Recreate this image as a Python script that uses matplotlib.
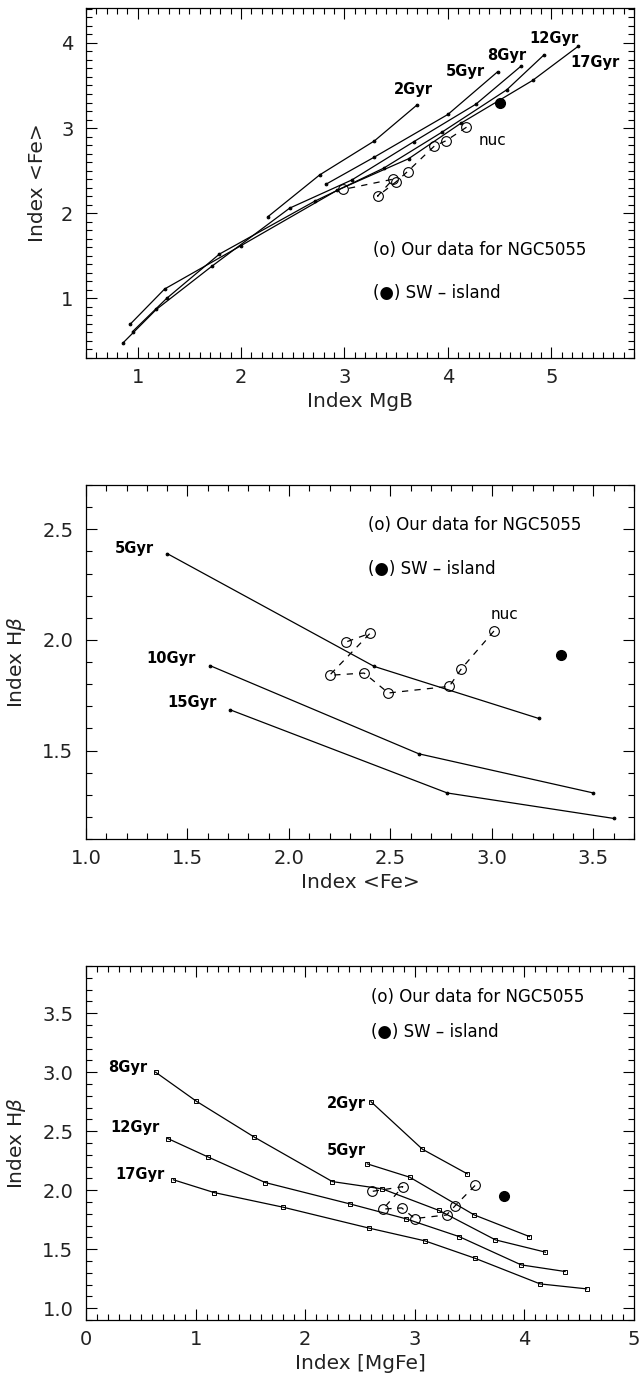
import matplotlib
matplotlib.use("Agg")
import matplotlib.pyplot as plt
from matplotlib.ticker import MultipleLocator, FormatStrFormatter

# ---- panel 1: MgB vs <Fe> (model grid, ages in Gyr) ----
mgb_2 = [2.26, 2.76, 3.29, 3.70]
fe_2 = [1.96, 2.45, 2.85, 3.27]
mgb_5 = [2.82, 3.29, 4.00, 4.48]
fe_5 = [2.34, 2.66, 3.16, 3.66]
mgb_8 = [0.86, 1.18, 1.72, 2.47, 3.07, 3.67, 4.27, 4.71]
fe_8 = [0.48, 0.87, 1.38, 2.06, 2.39, 2.84, 3.28, 3.73]
mgb_12 = [0.95, 1.28, 1.79, 2.71, 3.38, 3.94, 4.57, 4.93]
fe_12 = [0.61, 1.00, 1.52, 2.14, 2.53, 2.95, 3.45, 3.86]
mgb_17 = [0.93, 1.26, 2.00, 2.93, 3.62, 4.13, 4.82, 5.26]
fe_17 = [0.70, 1.11, 1.62, 2.27, 2.64, 3.06, 3.56, 3.96]

# ---- observed NGC5055 points (nucleus first, going outwards) ----
obs_mgb = [4.18, 3.98, 3.87, 3.61, 3.50, 3.32, 3.47, 2.99]
obs_fe = [3.01, 2.85, 2.79, 2.49, 2.37, 2.20, 2.40, 2.28]
obs_hb = [2.04, 1.87, 1.79, 1.76, 1.85, 1.84, 2.03, 1.99]
obs_mgfe = [3.55, 3.37, 3.29, 3.00, 2.88, 2.71, 2.89, 2.61]

# SW island
sw_mgb, sw_fe, sw_hb, sw_mgfe = 4.50, 3.30, 1.93, 3.81
sw_fe2 = 3.34
sw_hb3 = 1.95

# ---- panel 2: <Fe> vs Hbeta ----
p2_fe_5 = [1.40, 2.42, 3.23]
p2_hb_5 = [2.39, 1.88, 1.645]
p2_fe_10 = [1.61, 2.64, 3.50]
p2_hb_10 = [1.884, 1.485, 1.308]
p2_fe_15 = [1.71, 2.78, 3.60]
p2_hb_15 = [1.684, 1.308, 1.193]

# ---- panel 3: [MgFe] vs Hbeta ----
p3_x_2 = [2.60, 3.07, 3.48]
p3_y_2 = [2.75, 2.347, 2.138]
p3_x_5 = [2.567, 2.954, 3.541, 4.046]
p3_y_5 = [2.223, 2.110, 1.791, 1.607]
p3_x_8 = [0.635, 1.007, 1.537, 2.248, 2.704, 3.222, 3.736, 4.192]
p3_y_8 = [3.00, 2.754, 2.449, 2.073, 2.011, 1.828, 1.579, 1.475]
p3_x_12 = [0.746, 1.117, 1.635, 2.407, 2.922, 3.404, 3.971, 4.371]
p3_y_12 = [2.438, 2.280, 2.065, 1.884, 1.757, 1.607, 1.367, 1.311]
p3_x_17 = [0.798, 1.169, 1.798, 2.586, 3.091, 3.547, 4.143, 4.567]
p3_y_17 = [2.088, 1.980, 1.856, 1.678, 1.571, 1.424, 1.206, 1.164]

plt.rcParams['font.family'] = ['DejaVu Sans']
TICK_FS = 14
LAB_FS = 14.5
AGE_FS = 10.5
LEG_FS = 12
W, H = 639, 1387

fig = plt.figure(figsize=(W / 100, H / 100), dpi=100)


def make_axes(top, bottom):
    left, right = 86, 634
    return fig.add_axes([left / W, 1 - bottom / H, (right - left) / W, (bottom - top) / H])


def style(ax, xmaj, ymaj, xfmt, yfmt):
    ax.xaxis.set_major_locator(MultipleLocator(xmaj))
    ax.yaxis.set_major_locator(MultipleLocator(ymaj))
    ax.xaxis.set_minor_locator(MultipleLocator(0.1))
    ax.yaxis.set_minor_locator(MultipleLocator(0.1))
    ax.xaxis.set_major_formatter(FormatStrFormatter(xfmt))
    ax.yaxis.set_major_formatter(FormatStrFormatter(yfmt))
    ax.tick_params(which='both', direction='in', top=True, right=True, width=0.8,
                   labelsize=TICK_FS, labelcolor='#222')
    ax.tick_params(which='major', length=8)
    ax.tick_params(which='minor', length=4)
    ax.tick_params(axis='x', which='major', pad=7)
    ax.tick_params(axis='y', which='major', pad=9)
    for s in ax.spines.values():
        s.set_linewidth(0.9)


def model(ax, x, y, marker='o', ms=2):
    ax.plot(x, y, '-', color='k', lw=0.9, marker=marker, ms=ms,
            mfc='k' if marker == 'o' else 'none', mec='k', mew=0.7)


def observed(ax, x, y, sx, sy):
    ax.plot(x, y, color='k', lw=0.9, dashes=(5, 5), marker='o', ms=7,
            mfc='none', mec='k', mew=0.8)
    ax.plot([sx], [sy], 'o', color='k', ms=7)


def legend_text(ax, x, y1, y2):
    ax.text(x, y1, '(o) Our data for NGC5055', fontsize=LEG_FS, va='center')
    ax.text(x, y2, '(\u25cf) SW \u2013 island', fontsize=LEG_FS, va='center')


# Panel 1
ax1 = make_axes(8, 358)
for x, y in [(mgb_2, fe_2), (mgb_5, fe_5), (mgb_8, fe_8), (mgb_12, fe_12), (mgb_17, fe_17)]:
    model(ax1, x, y)
observed(ax1, obs_mgb, obs_fe, sw_mgb, sw_fe)
for lab, x, y in [('2Gyr', 3.67, 3.45), ('5Gyr', 4.17, 3.67), ('8Gyr', 4.57, 3.85),
                  ('12Gyr', 5.03, 4.05), ('17Gyr', 5.42, 3.77)]:
    ax1.text(x, y, lab, fontsize=AGE_FS, fontweight='bold', ha='center', va='center')
ax1.text(4.43, 2.85, 'nuc', fontsize=11, ha='center', va='center')
legend_text(ax1, 3.28, 1.57, 1.06)
ax1.set_xlim(0.5, 5.8)
ax1.set_ylim(0.3, 4.41)
style(ax1, 1, 1, '%d', '%d')
ax1.set_xlabel('Index MgB', fontsize=LAB_FS, color='#222', labelpad=4)
ax1.set_ylabel('Index <Fe>', fontsize=LAB_FS, color='#222', labelpad=10)

# Panel 2
ax2 = make_axes(485, 839)
for x, y in [(p2_fe_5, p2_hb_5), (p2_fe_10, p2_hb_10), (p2_fe_15, p2_hb_15)]:
    model(ax2, x, y)
observed(ax2, obs_fe, obs_hb, sw_fe2, sw_hb)
for lab, x, y in [('5Gyr', 1.24, 2.415), ('10Gyr', 1.42, 1.915), ('15Gyr', 1.52, 1.716)]:
    ax2.text(x, y, lab, fontsize=AGE_FS, fontweight='bold', ha='center', va='center')
ax2.text(3.06, 2.115, 'nuc', fontsize=11, ha='center', va='center')
legend_text(ax2, 2.39, 2.52, 2.32)
ax2.set_xlim(1.0, 3.7)
ax2.set_ylim(1.1, 2.7)
style(ax2, 0.5, 0.5, '%.1f', '%.1f')
ax2.set_xlabel('Index <Fe>', fontsize=LAB_FS, color='#222', labelpad=4)
ax2.set_ylabel(r'Index H$\beta$', fontsize=LAB_FS, color='#222', labelpad=10)

# Panel 3
ax3 = make_axes(966, 1320)
for x, y in [(p3_x_2, p3_y_2), (p3_x_5, p3_y_5), (p3_x_8, p3_y_8),
             (p3_x_12, p3_y_12), (p3_x_17, p3_y_17)]:
    model(ax3, x, y, marker='s', ms=3)
observed(ax3, obs_mgfe, obs_hb, sw_mgfe, sw_hb3)
for lab, x, y in [('8Gyr', 0.38, 3.04), ('12Gyr', 0.45, 2.53), ('17Gyr', 0.49, 2.135),
                  ('2Gyr', 2.38, 2.737), ('5Gyr', 2.38, 2.336)]:
    ax3.text(x, y, lab, fontsize=AGE_FS, fontweight='bold', ha='center', va='center')
legend_text(ax3, 2.6, 3.636, 3.339)
ax3.set_xlim(0, 5)
ax3.set_ylim(0.9, 3.9)
style(ax3, 1, 0.5, '%d', '%.1f')
ax3.set_xlabel('Index [MgFe]', fontsize=LAB_FS, color='#222', labelpad=4)
ax3.set_ylabel(r'Index H$\beta$', fontsize=LAB_FS, color='#222', labelpad=10)

fig.savefig('out.png', dpi=100)
